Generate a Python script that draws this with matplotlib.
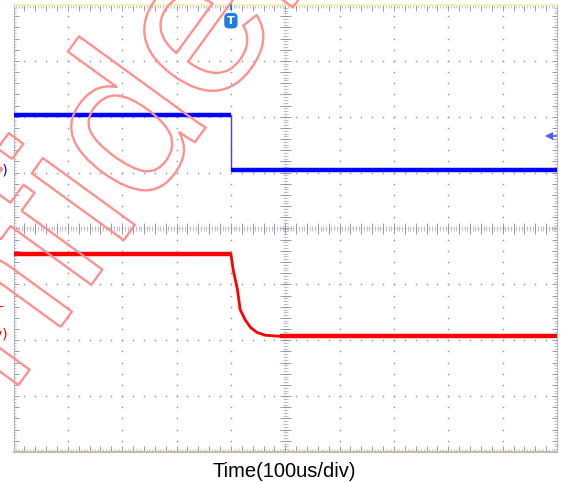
import matplotlib
matplotlib.use('Agg')
import numpy as np
import matplotlib.pyplot as plt
import matplotlib.patheffects as pe

# screen: 10 x 8 divisions, values in divisions
blue_t = [0.0, 4.0, 4.0, 10.0]
blue_v = [2.04, 2.04, 1.05, 1.05]

red_t = [0.0, 4.00, 4.04, 4.12, 4.17, 4.26, 4.36, 4.48, 4.63, 4.91, 10.0]
red_v = [-0.45, -0.45, -0.73, -1.09, -1.45, -1.63, -1.77, -1.86, -1.91, -1.93, -1.93]

trig_t = 4.0          # trigger position
trig_level = 1.65     # trigger level marker on the right
x_label = 'Time(100us/div)'

GRID = '#8a8aa8'
EDGE = '#b4b4c8'

fig = plt.figure(figsize=(5.63, 4.83), dpi=100, facecolor='white')
ax = fig.add_axes([13.5 / 563, 1 - 452 / 483, 543.5 / 563, 447 / 483])
ax.set_xlim(0, 10)
ax.set_ylim(-4, 4)
ax.set_xticks([])
ax.set_yticks([])
for side in ['left', 'right']:
    ax.spines[side].set_color(EDGE)
    ax.spines[side].set_linewidth(0.8)
ax.spines['top'].set_color('#f2f0b8')
ax.spines['top'].set_linewidth(1.5)
ax.spines['bottom'].set_color('#c8b8a8')
ax.spines['bottom'].set_linewidth(1.5)

# dotted graticule
fine = np.arange(0, 10.001, 0.2)
fine_y = np.arange(-4, 4.001, 0.2)
for k in range(1, 10):
    if k == 5:
        continue
    ax.plot(np.full_like(fine_y, k), fine_y, ls='none', marker='s', ms=1.0,
            mew=0, color=GRID, zorder=1)
for k in range(-3, 4):
    if k == 0:
        continue
    ax.plot(fine, np.full_like(fine, k), ls='none', marker='s', ms=1.0,
            mew=0, color=GRID, zorder=1)

# centre cross and edges with small ticks
minor_x = np.arange(0, 10.001, 0.05)
minor_y = np.arange(-4, 4.001, 0.05)
tick_x = 0.05
tick_y = 0.05
for cx in [0.0, 5.0, 10.0]:
    ax.vlines(cx, -4, 4, color=EDGE, lw=0.5, linestyles=(0, (1, 2)), zorder=1)
    ax.hlines(minor_y, cx - tick_x, cx + tick_x, color=EDGE, lw=0.6, zorder=1)
    ax.hlines(fine_y, cx - 2 * tick_x, cx + 2 * tick_x, color=GRID, lw=0.6, zorder=1)
for cy in [-4.0, 0.0, 4.0]:
    ax.hlines(cy, 0, 10, color=EDGE, lw=0.5, linestyles=(0, (1, 2)), zorder=1)
    ax.vlines(minor_x, cy - tick_y, cy + tick_y, color=EDGE, lw=0.6, zorder=1)
    ax.vlines(fine, cy - 2 * tick_y, cy + 2 * tick_y, color=GRID, lw=0.6, zorder=1)

# traces
ax.plot(blue_t, blue_v, color='#4040ff', lw=1.0, zorder=3)
ax.plot(blue_t[:2], blue_v[:2], color='#0000ff', lw=3.2, zorder=3,
        solid_capstyle='butt')
ax.plot(blue_t[2:], blue_v[2:], color='#0000ff', lw=3.2, zorder=3,
        solid_capstyle='butt')
ax.plot(red_t, red_v, color='#ff0000', lw=2.0, zorder=3)
ax.plot(red_t[:2], red_v[:2], color='#ff0000', lw=3.2, zorder=3,
        solid_capstyle='butt')
ax.plot(red_t[-2:], red_v[-2:], color='#ff0000', lw=3.2, zorder=3,
        solid_capstyle='butt')

# trigger markers
ax.text(trig_t, 3.72, 'T', ha='center', va='center', color='white',
        fontsize=8, weight='bold', zorder=5,
        bbox=dict(boxstyle='round,pad=0.25,rounding_size=0.4',
                  fc='#1f7fe0', ec='none'))
ax.plot([trig_t, trig_t], [3.93, 4.0], color='#1f7fe0', lw=1.5, zorder=5,
        clip_on=False)
ax.plot([9.86, 10.0], [trig_level, trig_level], color='#4a5cff', lw=1.2,
        zorder=5)
ax.plot(9.86, trig_level, marker='<', ms=6, color='#4a5cff', mew=0, zorder=5)

# channel label fragments clipped at the left border
fig.text(8 / 563, 1 - 170 / 483, 'CH1(2V/div)', ha='right', va='center',
         color='#0000ff', fontsize=10)
fig.text(8 / 563, 1 - 335 / 483, 'CH2(2V/div)', ha='right', va='center',
         color='#ff0000', fontsize=10)
fig.text(5 / 563, 1 - 307 / 483, 'Vo-', ha='right', va='center',
         color='#ff0000', fontsize=10)

fig.text(284.5 / 563, 1 - 477 / 483, x_label, fontsize=14.5,
         family='Liberation Sans', ha='center', va='baseline', color='black')

# watermark
fig.text(182 / 563, 1 - 160 / 483, 'Confidential', fontsize=155,
         family='Liberation Sans', rotation=54, rotation_mode='anchor',
         ha='center', va='baseline', color='none', zorder=20,
         path_effects=[pe.Stroke(linewidth=1.7, foreground='#ff9090')])

fig.savefig('out.png', dpi=100, facecolor='white')
